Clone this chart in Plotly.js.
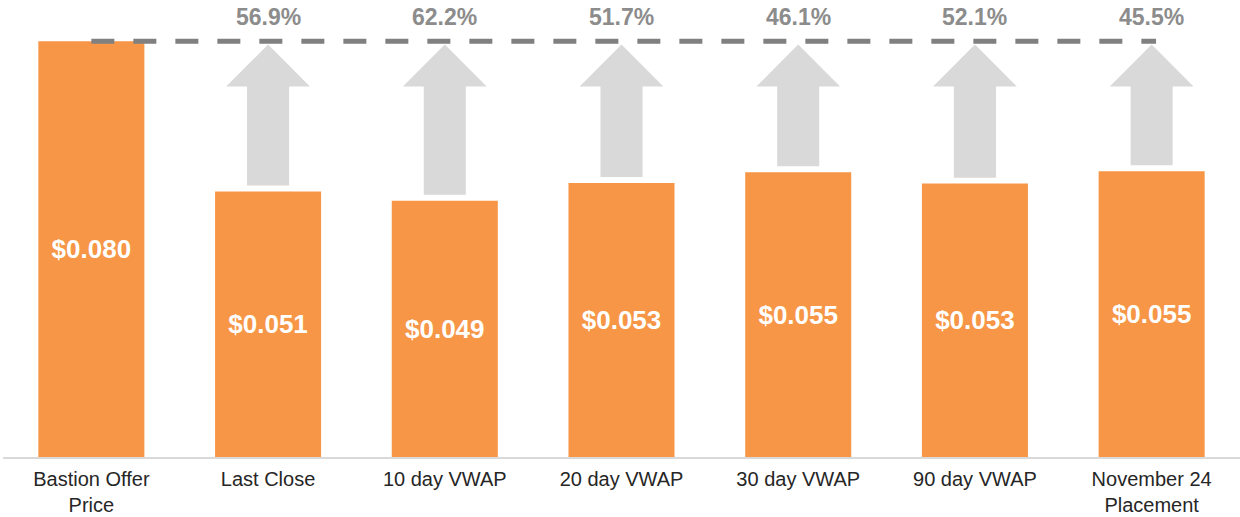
<!DOCTYPE html>
<html>
<head>
<meta charset="utf-8">
<script src="https://cdn.plot.ly/plotly-3.0.1.min.js"></script>
<style>html,body{margin:0;padding:0;background:#fff;}#chart{width:1240px;height:517px;}</style>
</head>
<body>
<div id="chart"></div>
<script>
// ---- data ----
const categories = ["Bastion Offer<br>Price", "Last Close", "10 day VWAP", "20 day VWAP", "30 day VWAP", "90 day VWAP", "November 24<br>Placement"];
const prices = [0.0800, 0.0511, 0.0493, 0.0527, 0.0548, 0.0526, 0.0550];
const premiumLabels = ["", "56.9%", "62.2%", "51.7%", "46.1%", "52.1%", "45.5%"];

// ---- styles ----
const barColor = "#F79646";
const arrowColor = "#D9D9D9";
const dashColor = "#808080";
const fontFamily = "Liberation Sans, Arial, sans-serif";

const idx = categories.map((_, i) => i);
const offer = prices[0];

// arrow geometry (in axis units)
const shaftHalf = 0.119, headHalf = 0.237;
const gapBelow = 0.00115, tipGap = 0.00063, headH = 0.0081;

const shapes = [];
for (let i = 1; i < prices.length; i++) {
  const x = idx[i];
  const yb = prices[i] + gapBelow;
  const tip = offer - tipGap;
  const hb = tip - headH;
  shapes.push({
    type: "path", xref: "x", yref: "y", layer: "below",
    path: `M ${x - shaftHalf} ${yb} L ${x - shaftHalf} ${hb} L ${x - headHalf} ${hb} L ${x} ${tip} L ${x + headHalf} ${hb} L ${x + shaftHalf} ${hb} L ${x + shaftHalf} ${yb} Z`,
    fillcolor: arrowColor, line: {width: 0}
  });
}
shapes.push({
  type: "line", xref: "x", yref: "y",
  x0: idx[0], x1: idx[idx.length - 1] + 0.025, y0: offer, y1: offer,
  line: {color: dashColor, width: 5, dash: "23px,19px"}
});

const annotations = [];
for (let i = 1; i < prices.length; i++) {
  annotations.push({
    x: idx[i], y: offer, xref: "x", yref: "y",
    text: "<b>" + premiumLabels[i] + "</b>", showarrow: false,
    yanchor: "middle", yshift: 24,
    font: {family: fontFamily, size: 23, color: "#8C8C8C"}
  });
}

const trace = {
  type: "bar", x: idx, y: prices,
  marker: {color: barColor, line: {width: 0}},
  width: 0.6,
  text: prices.map(p => "$" + p.toFixed(3)),
  texttemplate: "<b>%{text}</b>",
  textposition: "inside", insidetextanchor: "middle",
  textangle: 0, constraintext: "none",
  textfont: {family: fontFamily, size: 26, color: "#FFFFFF"},
  hoverinfo: "skip", cliponaxis: false
};

const layout = {
  width: 1240, height: 517,
  margin: {l: 3, r: 0, t: 0, b: 60},
  paper_bgcolor: "#FFFFFF", plot_bgcolor: "#FFFFFF",
  showlegend: false,
  xaxis: {
    range: [-0.5, 6.5], tickvals: idx, ticktext: categories,
    showgrid: false, zeroline: false, showline: true,
    linecolor: "#D9D9D9", linewidth: 2, ticks: "",
    ticklabelstandoff: 3,
    tickfont: {family: fontFamily, size: 20, color: "#262626"},
    fixedrange: true
  },
  yaxis: {
    range: [0, 0.08793], visible: false, showgrid: false, zeroline: false,
    fixedrange: true
  },
  shapes: shapes,
  annotations: annotations
};

Plotly.newPlot("chart", [trace], layout, {displayModeBar: false, staticPlot: true});
</script>
</body>
</html>
